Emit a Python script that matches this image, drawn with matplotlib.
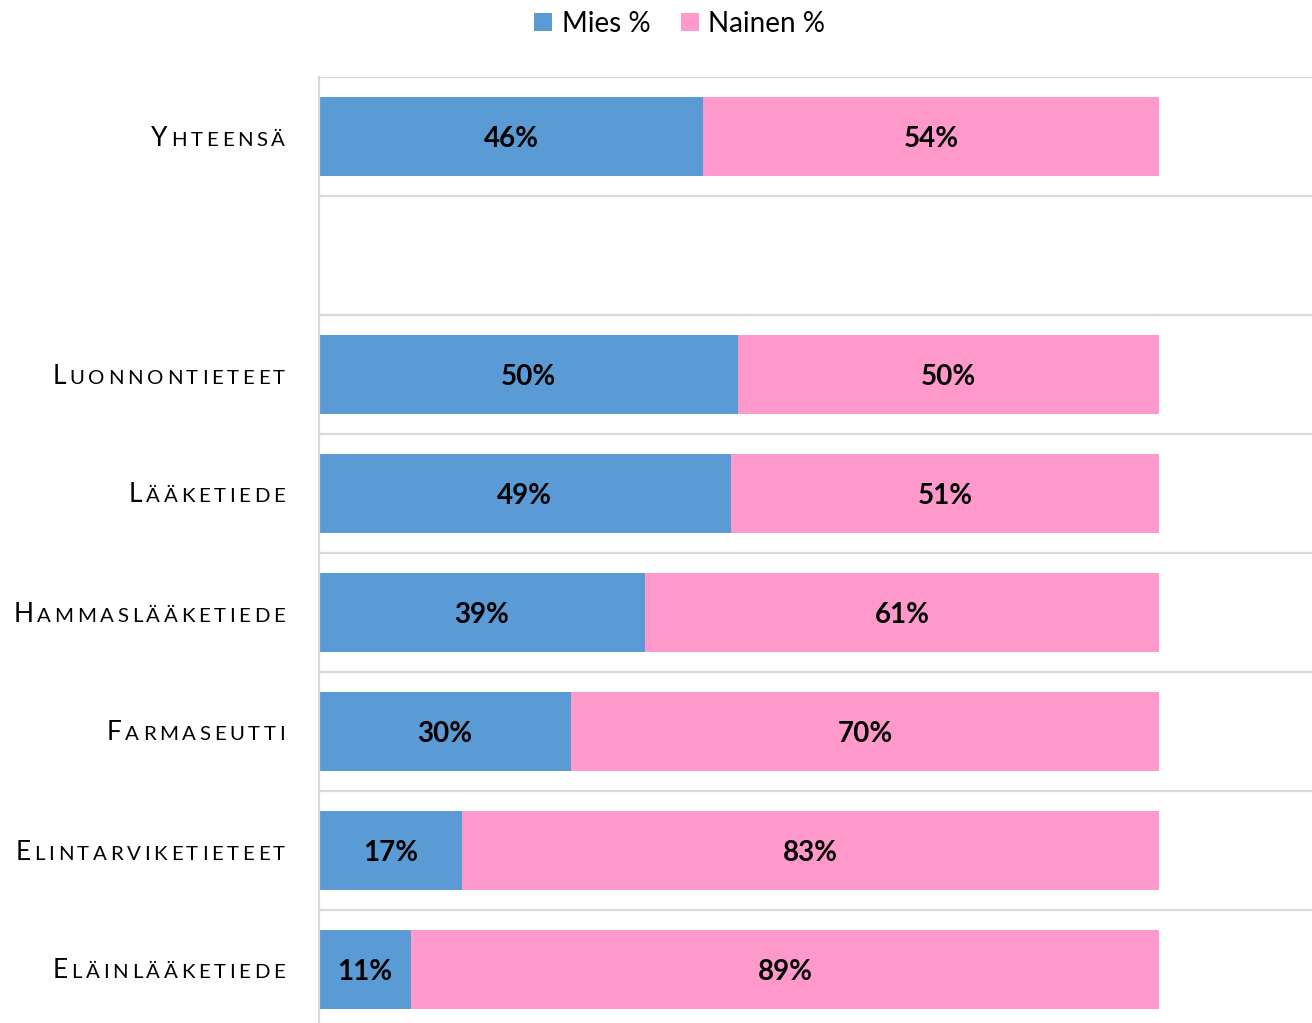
import matplotlib
matplotlib.use("Agg")
import matplotlib.pyplot as plt
from matplotlib.font_manager import FontProperties
from matplotlib import transforms

categories = ["Yhteensä", "", "Luonnontieteet", "Lääketiede", "Hammaslääketiede",
              "Farmaseutti", "Elintarviketieteet", "Eläinlääketiede"]
mies = [45.7, 0, 49.9, 49.0, 38.8, 30.0, 17.0, 11.0]
nainen = [54.3, 0, 50.1, 51.0, 61.2, 70.0, 83.0, 89.0]
series_names = ["Mies %", "Nainen %"]

BLUE = "#5B9BD5"
PINK = "#FF99CC"
GRID = "#D9D9D9"
FONT = "Lato"

fig = plt.figure(figsize=(13.12, 10.23), dpi=100)
ax = fig.add_axes([319 / 1312, -6 / 1023, 993 / 1312, 952 / 1023])

y = list(range(len(categories)))
b1 = ax.barh(y, mies, height=0.66, color=BLUE, label=series_names[0])
b2 = ax.barh(y, nainen, left=mies, height=0.66, color=PINK, label=series_names[1])

for bars, vals in ((b1, mies), (b2, nainen)):
    labels = [f"{round(v)}%" if v > 0 else "" for v in vals]
    texts = ax.bar_label(bars, labels=labels, label_type="center",
                         fontsize=20, fontweight="bold", family=FONT, color="black")
    for t in texts:
        t.set_va("center_baseline")

ax.set_xlim(0, 118.2)
ax.set_ylim(len(categories) - 0.5, -0.5)
ax.set_xticks([])
ax.set_yticks([])
ax.set_yticks([i - 0.5 for i in range(len(categories) + 1)], minor=True)
ax.tick_params(axis="y", which="minor", length=0)
ax.yaxis.set_tick_params(which="minor", labelleft=False)
ax.grid(True, which="minor", axis="y", color=GRID, linewidth=1.6)
ax.set_axisbelow(True)
for s in ("top", "right", "bottom"):
    ax.spines[s].set_visible(False)
ax.spines["left"].set_color(GRID)
ax.spines["left"].set_linewidth(1.6)

# small-caps category labels with letter spacing
renderer = fig.canvas.get_renderer()
big, small, spacing = 19, 14.7, 3.7
base = ax.get_yaxis_transform()
for yi, label in zip(y, categories):
    if not label:
        continue
    parts = []
    for i, ch in enumerate(label):
        size = big if i == 0 else small
        fp = FontProperties(family=FONT, size=size)
        w, h, d = renderer.get_text_width_height_descent(ch.upper(), fp, ismath=False)
        parts.append((ch.upper(), fp, w))
    total = sum(p[2] for p in parts) + spacing * (len(parts) - 1)
    x = -34 - total
    for s, fp, w in parts:
        tr = transforms.offset_copy(base, fig=fig, x=x, y=-9, units="dots")
        ax.text(0, yi, s, fontproperties=fp, transform=tr, ha="left",
                va="baseline", color="black", clip_on=False)
        x += w + spacing

fig.legend(handles=[b1, b2], labels=series_names, loc="center",
           bbox_to_anchor=(0.518, 0.977), ncol=2, frameon=False,
           prop=FontProperties(family=FONT, size=20),
           handlelength=0.65, handleheight=0.65, handletextpad=0.35,
           columnspacing=1.1)

fig.savefig("out.png", dpi=100)
